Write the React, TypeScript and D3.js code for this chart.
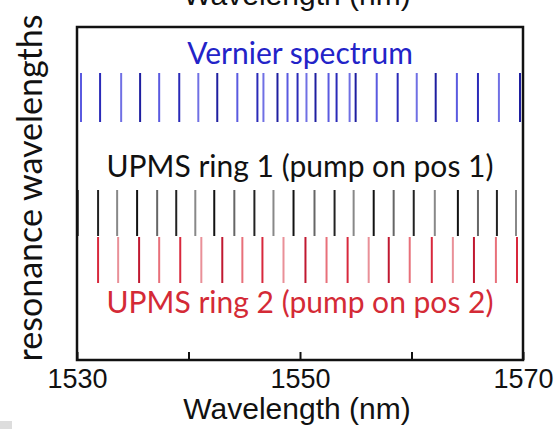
import { useEffect, useRef } from "react";
import * as d3 from "d3";

// resonance positions (nm)
const vernierLines = [
  1530.36, 1532.07, 1533.96, 1535.66, 1537.37, 1539.17, 1540.88, 1542.58,
  1544.38, 1546.18, 1546.72, 1547.98, 1548.88, 1549.78, 1550.58, 1551.39,
  1552.56, 1553.28, 1554.45, 1554.99, 1556.88, 1558.76, 1560.47, 1562.17,
  1564.07, 1565.96, 1567.84, 1569.73,
];
const ring1Lines = [
  1530.09, 1531.89, 1533.6, 1535.39, 1537.19, 1538.9, 1540.61, 1542.31,
  1544.11, 1545.91, 1547.62, 1549.42, 1551.3, 1553.1, 1554.81, 1556.61,
  1558.4, 1560.2, 1562.09, 1564.16, 1565.96, 1567.66, 1569.37,
];
const ring2Lines = [
  1530.0, 1531.89, 1533.69, 1535.57, 1537.37, 1539.26, 1541.15, 1543.03,
  1544.83, 1546.63, 1548.52, 1550.49, 1552.38, 1554.27, 1556.16, 1557.96,
  1559.84, 1561.82, 1563.71, 1565.6, 1567.57, 1569.46,
];
const xTicks = [1530, 1540, 1550, 1560, 1570];
const xTickLabels = ["1530", "", "1550", "", "1570"];

const W = 559;
const H = 429;

export default function App() {
  const svgRef = useRef<SVGSVGElement>(null);

  useEffect(() => {
    if (!svgRef.current) return;
    const svg = d3.select(svgRef.current);
    svg.selectAll("*").remove();

    const left = 77;
    const right = 523;
    const top = 27;
    const bottom = 360;

    const x = d3.scaleLinear().domain([1530, 1570]).range([left, right]);

    const calibri = "Lato, 'Open Sans', sans-serif";
    const arial = "'Liberation Sans', Arial, sans-serif";

    // cropped x label of the panel above
    svg
      .append("text")
      .attr("x", 297)
      .attr("y", 5)
      .attr("text-anchor", "middle")
      .attr("font-family", arial)
      .attr("font-size", 30)
      .attr("fill", "#111")
      .text("Wavelength (nm)");

    const rows = [
      { data: ring1Lines, y0: 190, y1: 236, colors: ["#666", "#222", "#888", "#111"] },
      { data: ring2Lines, y0: 237, y1: 283, colors: ["#e8707a", "#d8283c", "#e99098", "#c01830"] },
      { data: vernierLines, y0: 73, y1: 122, colors: ["#5a5ae0", "#2a2ab8", "#7070e4", "#1e1ea0"] },
    ];

    rows.forEach((row) => {
      svg
        .append("g")
        .selectAll("line")
        .data(row.data)
        .join("line")
        .attr("x1", (d) => x(d))
        .attr("x2", (d) => x(d))
        .attr("y1", row.y0)
        .attr("y2", row.y1)
        .attr("stroke", (_, i) => row.colors[i % row.colors.length])
        .attr("stroke-width", 2);
    });

    // row titles
    const titles = [
      { t: "Vernier spectrum", y: 64, c: "#2323c8" },
      { t: "UPMS ring 1 (pump on pos 1)", y: 177, c: "#111" },
      { t: "UPMS ring 2 (pump on pos 2)", y: 313, c: "#d42a36" },
    ];
    svg
      .append("g")
      .selectAll("text")
      .data(titles)
      .join("text")
      .attr("x", 300)
      .attr("y", (d) => d.y)
      .attr("text-anchor", "middle")
      .attr("font-family", calibri)
      .attr("font-size", 30)
      .attr("fill", (d) => d.c)
      .text((d) => d.t);

    // frame
    svg
      .append("rect")
      .attr("x", left)
      .attr("y", top)
      .attr("width", right - left)
      .attr("height", bottom - top)
      .attr("fill", "none")
      .attr("stroke", "#111")
      .attr("stroke-width", 2.5);

    // x axis
    const axis = d3
      .axisBottom(x)
      .tickValues(xTicks)
      .tickSize(-8)
      .tickSizeOuter(0)
      .tickFormat((_, i) => xTickLabels[i]);
    const ax = svg.append("g").attr("transform", `translate(0,${bottom})`).call(axis);
    ax.select(".domain").remove();
    ax.selectAll(".tick line").attr("stroke", "#111").attr("stroke-width", 2);
    ax.selectAll(".tick text")
      .attr("font-family", arial)
      .attr("font-size", 27)
      .attr("fill", "#111")
      .attr("y", 28)
      .attr("dy", 0);

    svg
      .append("text")
      .attr("x", 297)
      .attr("y", 419)
      .attr("text-anchor", "middle")
      .attr("font-family", arial)
      .attr("font-size", 30)
      .attr("fill", "#111")
      .text("Wavelength (nm)");

    svg
      .append("text")
      .attr("transform", `translate(42,188) rotate(-90)`)
      .attr("text-anchor", "middle")
      .attr("font-family", calibri)
      .attr("font-size", 34)
      .attr("fill", "#111")
      .text("resonance wavelengths");

    svg
      .append("rect")
      .attr("x", 0)
      .attr("y", 421)
      .attr("width", 12)
      .attr("height", 8)
      .attr("fill", "#ddd");
  }, []);

  return (
    <svg
      ref={svgRef}
      width={W}
      height={H}
      style={{ position: "absolute", left: 0, top: 0, background: "#fff" }}
    />
  );
}
